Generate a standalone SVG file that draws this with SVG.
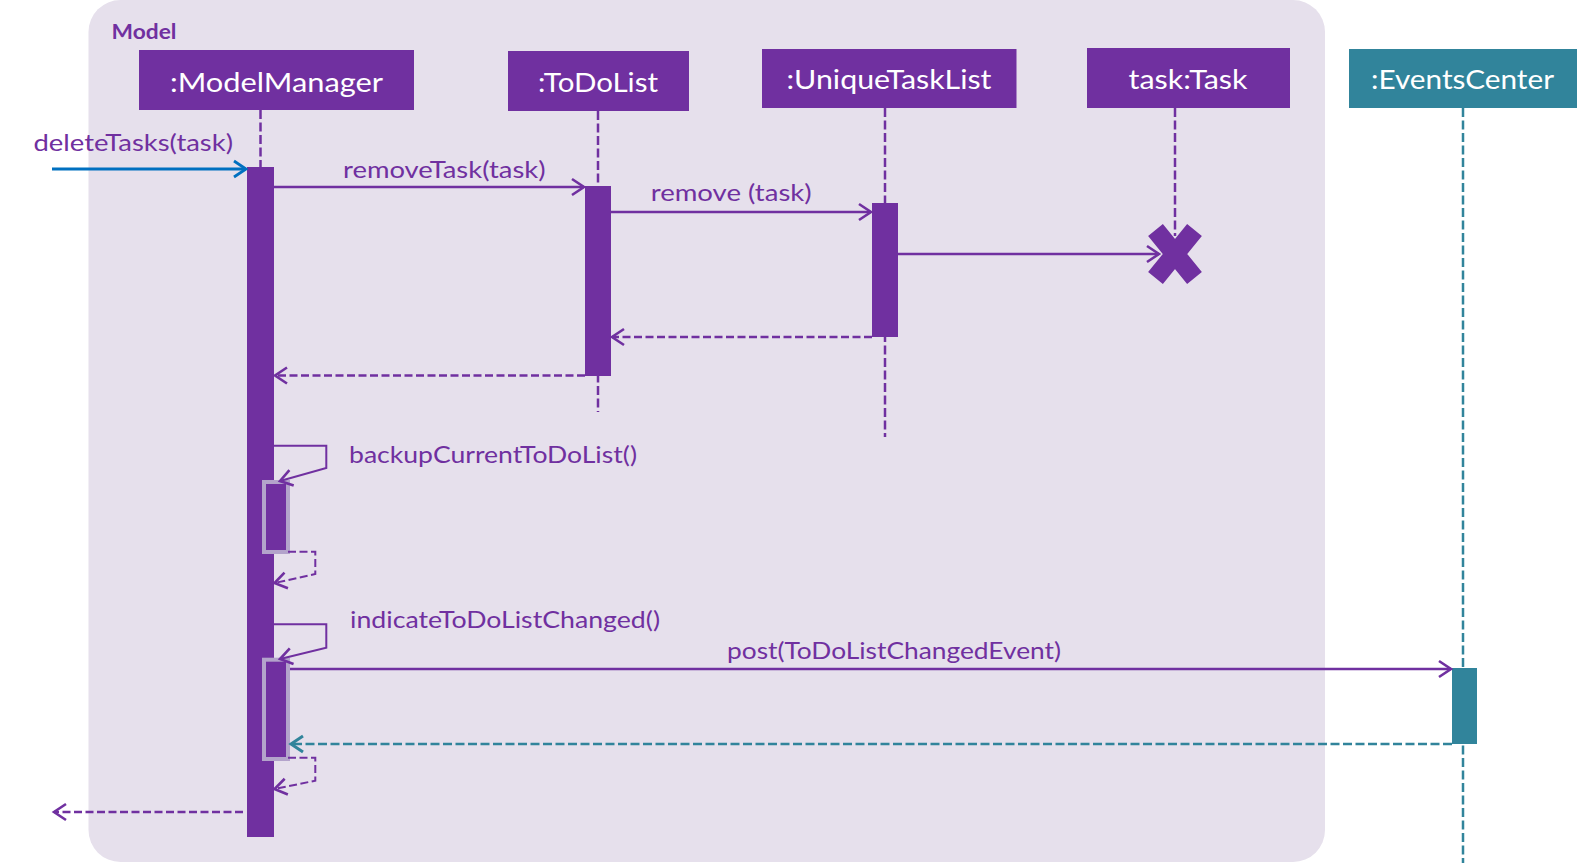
<svg xmlns="http://www.w3.org/2000/svg" width="1577" height="863" viewBox="0 0 1577 863">
<style>
  text { font-family: Lato, "Liberation Sans", sans-serif; }
  .hdr { fill: #ffffff; font-size: 27.5px; text-anchor: middle; }
  .lbl { fill: #7030a0; font-size: 23px; }
  .box { fill: #7030a0; }
  .life { fill: none; stroke: #7030a0; stroke-width: 2.5; stroke-dasharray: 9 3.5; }
  .lifeT { fill: none; stroke: #31849b; stroke-width: 2.5; stroke-dasharray: 9 3.5; }
  .bar { fill: #7030a0; }
  .nest { fill: #7030a0; stroke: #b3a3cb; stroke-width: 4; }
  .msg { fill: none; stroke: #7030a0; stroke-width: 2.5; marker-end: url(#ap); }
  .ret { fill: none; stroke: #7030a0; stroke-width: 2.5; stroke-dasharray: 8 3.5; marker-end: url(#ap); }
  .self { fill: none; stroke: #7030a0; stroke-width: 2; marker-end: url(#ap); }
  .selfret { fill: none; stroke: #7030a0; stroke-width: 2; stroke-dasharray: 8 3.5; marker-end: url(#ap); }
</style>
<defs>
  <marker id="ap" markerUnits="userSpaceOnUse" markerWidth="18" markerHeight="22" viewBox="-15 -11 18 22" refX="0" refY="0" orient="auto">
    <path d="M-12,-8 L0,0 L-12,8" fill="none" stroke="#7030a0" stroke-width="2.6"/>
  </marker>
  <marker id="ab" markerUnits="userSpaceOnUse" markerWidth="18" markerHeight="22" viewBox="-15 -11 18 22" refX="0" refY="0" orient="auto">
    <path d="M-12,-8 L0,0 L-12,8" fill="none" stroke="#0070c0" stroke-width="2.8"/>
  </marker>
  <marker id="at" markerUnits="userSpaceOnUse" markerWidth="18" markerHeight="22" viewBox="-15 -11 18 22" refX="0" refY="0" orient="auto">
    <path d="M-12,-8 L0,0 L-12,8" fill="none" stroke="#31849b" stroke-width="3"/>
  </marker>
</defs>

<rect width="1577" height="863" fill="#ffffff"/>

<g id="model-frame">
  <rect x="88.5" y="0" width="1236.5" height="862" rx="32" ry="32" fill="#e6e0ec"/>
  <text x="111.5" y="39" fill="#7030a0" font-size="21.5" font-weight="bold" textLength="65" lengthAdjust="spacingAndGlyphs">Model</text>
</g>

<g id="ModelManager">
  <rect class="box" x="139" y="50" width="275" height="60"/>
  <text class="hdr" x="276.5" y="92" textLength="213" lengthAdjust="spacingAndGlyphs">:ModelManager</text>
  <line class="life" x1="260.5" y1="110" x2="260.5" y2="167"/>
  <rect class="bar" x="247" y="167" width="27" height="670"/>
  <rect class="nest" x="264" y="482" width="24" height="70"/>
  <rect class="nest" x="264" y="659.7" width="24" height="99.3"/>
</g>

<g id="ToDoList">
  <rect class="box" x="508" y="51" width="181" height="60"/>
  <text class="hdr" x="598" y="91.5" textLength="120" lengthAdjust="spacingAndGlyphs">:ToDoList</text>
  <line class="life" x1="598" y1="111" x2="598" y2="412"/>
  <rect class="bar" x="585" y="186" width="26" height="190"/>
</g>

<g id="UniqueTaskList">
  <rect class="box" x="762" y="49" width="254.5" height="59"/>
  <text class="hdr" x="889" y="89.3" textLength="205" lengthAdjust="spacingAndGlyphs">:UniqueTaskList</text>
  <line class="life" x1="885" y1="108" x2="885" y2="437"/>
  <rect class="bar" x="872" y="203" width="26" height="134"/>
</g>

<g id="Task">
  <rect class="box" x="1087" y="48" width="203" height="60"/>
  <text class="hdr" x="1188" y="88.5" textLength="119" lengthAdjust="spacingAndGlyphs">task:Task</text>
  <line class="life" x1="1175" y1="108" x2="1175" y2="236"/>
  <path d="M1155.5,230 L1194.5,278 M1194.5,230 L1155.5,278" fill="none" stroke="#7030a0" stroke-width="19"/>
</g>

<g id="EventsCenter">
  <rect x="1349" y="49" width="228" height="59" fill="#31849b"/>
  <text class="hdr" x="1462.5" y="89.3" textLength="183" lengthAdjust="spacingAndGlyphs">:EventsCenter</text>
  <line class="lifeT" x1="1463" y1="108" x2="1463" y2="863"/>
  <rect x="1452" y="668" width="25" height="76" fill="#31849b"/>
</g>

<g id="connectors">
  <line x1="52" y1="169" x2="246" y2="169" stroke="#0070c0" stroke-width="2.8" marker-end="url(#ab)"/>
  <text class="lbl" x="33.5" y="151" textLength="199.5" lengthAdjust="spacingAndGlyphs">deleteTasks(task)</text>

  <line class="msg" x1="274" y1="187" x2="584" y2="187"/>
  <text class="lbl" x="343" y="178" textLength="202.5" lengthAdjust="spacingAndGlyphs">removeTask(task)</text>

  <line class="msg" x1="611" y1="212" x2="871" y2="212"/>
  <text class="lbl" x="650.7" y="201" textLength="161" lengthAdjust="spacingAndGlyphs">remove (task)</text>

  <line class="msg" x1="898" y1="254" x2="1159" y2="254"/>

  <line class="ret" x1="872" y1="337" x2="612" y2="337"/>
  <line class="ret" x1="585" y1="375.5" x2="275" y2="375.5"/>

  <path class="self" d="M274,445.7 L326.3,445.7 L326.3,468 L280,481"/>
  <text class="lbl" x="349" y="463" textLength="288" lengthAdjust="spacingAndGlyphs">backupCurrentToDoList()</text>
  <path class="selfret" d="M288,551.7 L315.3,551.7 L315.3,574 L274.5,583"/>

  <path class="self" d="M274,624.3 L326.3,624.3 L326.3,647.7 L280,659"/>
  <text class="lbl" x="350" y="628" textLength="310" lengthAdjust="spacingAndGlyphs">indicateToDoListChanged()</text>

  <line class="msg" x1="290" y1="669" x2="1451" y2="669"/>
  <text class="lbl" x="727" y="659" textLength="334" lengthAdjust="spacingAndGlyphs">post(ToDoListChangedEvent)</text>

  <line x1="1452" y1="744" x2="291" y2="744" stroke="#31849b" stroke-width="2.5" stroke-dasharray="9 3.5" marker-end="url(#at)"/>

  <path class="selfret" d="M288,757.7 L315.3,757.7 L315.3,780.7 L274.5,789"/>

  <line class="ret" x1="243" y1="812" x2="54" y2="812"/>
</g>
</svg>
